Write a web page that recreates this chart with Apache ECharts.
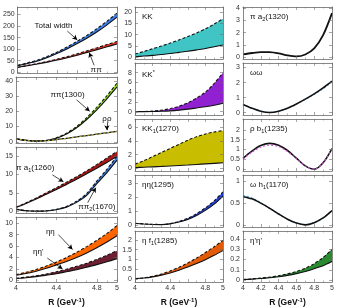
<!DOCTYPE html>
<html><head><meta charset="utf-8">
<script src="https://cdn.jsdelivr.net/npm/echarts@6/dist/echarts.min.js"></script>
<style>html,body{margin:0;padding:0;background:#fff}#c{width:345px;height:308px}</style>
</head><body><div id="c"></div><script>
// ---------- data ----------
const R = [4.0,4.1,4.2,4.3,4.4,4.5,4.6,4.7,4.8,4.9,5.0];
const xTicksCoarse = [4,4.4,4.8,5];
const xTicksFine = [4,4.2,4.4,4.6,4.8,5];
// column 1
const totalWidthHi = [30,41,53,69,88,110,134,160,189,221,255];
const totalWidthLo = [28,38,49,64,82,102,124,148,175,205,238];
const pipiHi = [22,30,38,47,57,68,80,93,106,120,133];
const pipiLo = [21,28,36,44,53,63,74,86,98,110,122];
const pipi1300Hi = [2.0,1.0,0.5,0.9,2.6,5.6,10.0,15.8,22.6,30.2,38.5];
const pipi1300Lo = [1.9,0.9,0.4,0.8,2.3,5.1,9.2,14.6,21.0,28.2,36.0];
const rhorho = [1.9,0.9,0.4,0.7,1.4,2.3,3.2,4.1,5.0,5.9,6.8];
const pia1Hi = [1.1,2.3,3.6,5.0,6.4,7.9,9.4,11.0,12.7,14.5,16.3];
const pia1Lo = [1.0,2.1,3.3,4.6,5.9,7.3,8.7,10.2,11.7,13.3,14.9];
const pipi2Hi = [0.6,0.15,0.0,0.1,0.5,1.3,2.7,4.8,8.2,11.4,15.0];
const pipi2Lo = [0.5,0.1,0.0,0.05,0.4,1.1,2.4,4.3,7.5,10.5,13.9];
const etaetaHi = [1.0,1.4,1.9,2.5,3.2,4.0,4.9,5.9,7.0,8.2,9.6];
const etaetaLo = [0.9,1.2,1.6,2.1,2.7,3.3,4.0,4.8,5.7,6.7,7.8];
const etaetapHi = [0.35,0.55,0.8,1.1,1.5,1.95,2.45,3.0,3.65,4.4,5.2];
const etaetapLo = [0.3,0.45,0.65,0.9,1.15,1.5,1.85,2.3,2.75,3.25,3.8];
// column 2
const kkHi = [1.5,2.6,3.8,5.0,6.3,7.7,9.2,10.8,12.6,14.7,17.0];
const kkLo = [0.3,0.6,0.9,1.3,1.7,2.2,2.7,3.3,3.9,4.7,5.5];
const kkStarHi = [0.0,0.02,0.1,0.3,0.6,1.1,1.8,2.8,4.0,5.8,8.0];
const kkStarLo = [0.0,0.0,0.02,0.07,0.15,0.3,0.5,0.75,1.0,1.3,1.7];
const kk1Hi = [0.6,1.1,1.7,2.3,2.9,3.5,4.1,4.6,5.0,5.3,5.5];
const kk1Lo = [0.10,0.15,0.21,0.27,0.34,0.41,0.48,0.56,0.64,0.72,0.80];
const etaeta1295Hi = [0.12,0.08,0.05,0.04,0.1,0.25,0.48,0.8,1.22,1.72,2.35];
const etaeta1295Lo = [0.11,0.07,0.04,0.03,0.08,0.21,0.4,0.68,1.04,1.48,2.05];
const etaf1Hi = [0.02,0.06,0.14,0.26,0.41,0.6,0.82,1.07,1.35,1.65,1.97];
const etaf1Lo = [0.02,0.05,0.11,0.2,0.31,0.45,0.61,0.79,0.99,1.21,1.45];
// column 3
const pia2 = [0.22,0.34,0.42,0.41,0.31,0.15,0.06,0.22,0.72,1.8,3.6];
const omom = [0.55,0.3,0.1,0.02,0.1,0.3,0.58,0.9,1.25,1.65,2.1];
const omomB = [0.55,0.3,0.1,0.02,0.1,0.3,0.58,0.89,1.22,1.6,2.04];
const rhob1 = [0.55,0.92,1.2,1.31,1.22,0.95,0.56,0.17,0.0,0.33,1.05];
const rhob1B = [0.52,0.86,1.12,1.22,1.15,0.9,0.54,0.16,0.0,0.33,1.05];
const omh1 = [0.65,0.6,0.5,0.38,0.25,0.13,0.04,0.0,0.05,0.16,0.33];
const omh1B = [0.68,0.62,0.51,0.38,0.25,0.13,0.04,0.0,0.05,0.16,0.33];
const epepHi = [0.005,0.01,0.018,0.028,0.042,0.06,0.083,0.115,0.16,0.22,0.30];
const epepLo = [0.004,0.008,0.014,0.022,0.032,0.045,0.062,0.083,0.11,0.14,0.18];

// ---------- layout / style ----------
const FONT = '"Liberation Sans", Arial, Helvetica, sans-serif';
const FRAME = '#6a6a6a';
const COLS = [{left:16,width:101},{left:135,width:88},{left:243,width:89}];
const TOP = 7, BOT = 283;
function rowBox(i,n){const gap=4;const h=(BOT-TOP-gap*(n-1))/n;return {top:TOP+i*(h+gap),height:h};}
const RICH = {
  n:{fontSize:8,fontFamily:FONT,color:'#111',lineHeight:11,verticalAlign:'middle'},
  s:{fontSize:5.5,fontFamily:FONT,color:'#111',lineHeight:6,verticalAlign:'bottom'},
  p:{fontSize:5.5,fontFamily:FONT,color:'#111',lineHeight:6,verticalAlign:'top'}
};
const NAME_RICH = {
  n:{fontSize:8.5,fontWeight:'bold',fontFamily:FONT,color:'#111',lineHeight:11,verticalAlign:'middle'},
  p:{fontSize:6,fontWeight:'bold',fontFamily:FONT,color:'#111',lineHeight:6,verticalAlign:'top'}
};

const panels = [
 {c:0,r:0,n:4,min:-3,max:282,ticks:[0,50,100,150,200,250],
  bands:[{hi:totalWidthHi,lo:totalWidthLo,color:'#3a80e8'},{hi:pipiHi,lo:pipiLo,color:'#e53528'}],
  notes:[{t:'{n|Total width}',at:[4.36,200],arrow:[[4.5,178],[4.6,140]]},{t:'{n|ππ}',at:[4.79,10],arrow:[[4.77,30],[4.72,85]]}]},
 {c:0,r:1,n:4,min:-0.8,max:42.5,ticks:[0,10,20,30,40],
  bands:[{hi:pipi1300Hi,lo:pipi1300Lo,color:'#8fe020'}],
  lines:[{d:rhorho,color:'#111',w:1.3},{d:rhorho,color:'#e8e040',w:0.8,dash:[2,2]}],
  notes:[{t:'{n|ππ(1300)}',at:[4.51,31],arrow:[[4.6,27.5],[4.73,20]]},{t:'{n|ρρ}',at:[4.9,15],arrow:[[4.9,12.5],[4.9,7.6]]}]},
 {c:0,r:2,n:4,min:-0.5,max:17.5,ticks:[0,5,10,15],
  bands:[{hi:pia1Hi,lo:pia1Lo,color:'#a81818'},{hi:pipi2Hi,lo:pipi2Lo,color:'#3f7fe8'}],
  notes:[{t:'{n|π a}{s|1}{n|(1260)}',at:[4.19,11.8],arrow:[[4.36,9.9],[4.47,8.0]]},{t:'{n|ππ}{s|2}{n|(1670)}',at:[4.8,1.1],arrow:[[4.71,2.3],[4.79,6.4]]}]},
 {c:0,r:3,n:4,min:-0.3,max:11.1,ticks:[0,2,4,6,8,10],
  bands:[{hi:etaetaHi,lo:etaetaLo,color:'#ff6600'},{hi:etaetapHi,lo:etaetapLo,color:'#6e1f32'}],
  notes:[{t:'{n|ηη}',at:[4.34,8.5],arrow:[[4.42,8.0],[4.56,5.4]]},{t:"{n|ηη'}",at:[4.22,5.0],arrow:[[4.31,3.9],[4.46,2.0]]}]},
 {c:1,r:0,n:5,min:-0.7,max:22.2,ticks:[0,5,10,15,20],label:'{n|KK}',
  bands:[{hi:kkHi,lo:kkLo,color:'#40c4c4'}]},
 {c:1,r:1,n:5,min:-0.7,max:10,ticks:[0,2,4,6,8],label:'{n|KK}{p|*}',
  bands:[{hi:kkStarHi,lo:kkStarLo,color:'#9020d0'}]},
 {c:1,r:2,n:5,min:-0.4,max:7.2,ticks:[0,2,4,6],label:'{n|KK}{s|1}{n|(1270)}',
  bands:[{hi:kk1Hi,lo:kk1Lo,color:'#c9bd00'}]},
 {c:1,r:3,n:5,min:-0.14,max:3.55,ticks:[0,1,2,3],label:'{n|ηη(1295)}',
  bands:[{hi:etaeta1295Hi,lo:etaeta1295Lo,color:'#2040e0'}]},
 {c:1,r:4,n:5,min:-0.15,max:2.45,ticks:[0,0.5,1,1.5,2],label:'{n|η f}{s|1}{n|(1285)}',
  bands:[{hi:etaf1Hi,lo:etaf1Lo,color:'#e35a08'}]},
 {c:2,r:0,n:5,min:-0.15,max:4.1,ticks:[0,1,2,3,4],label:'{n|π a}{s|2}{n|(1320)}',
  lines:[{d:pia2,color:'#111',w:1.8}]},
 {c:2,r:1,n:5,min:-0.15,max:3.3,ticks:[0,1,2,3],label:'{n|ωω}',
  lines:[{d:omomB,color:'#50b0e0',w:1.2,dash:[2,2]},{d:omom,color:'#111',w:1.6}]},
 {c:2,r:2,n:5,min:-0.09,max:2.55,ticks:[0,0.5,1,1.5,2],label:'{n|ρ b}{s|1}{n|(1235)}',
  lines:[{d:rhob1,color:'#111',w:1.6},{d:rhob1B,color:'#d050d0',w:1.1,dash:[2,2]}]},
 {c:2,r:3,n:5,min:-0.05,max:1.15,ticks:[0,0.5,1],label:'{n|ω h}{s|1}{n|(1170)}',
  lines:[{d:omh1B,color:'#40a8e0',w:1.2,dash:[2,2]},{d:omh1,color:'#111',w:1.6}]},
 {c:2,r:4,n:5,min:-0.02,max:0.48,ticks:[0,0.1,0.2,0.3,0.4],label:"{n|η'η'}",
  bands:[{hi:epepHi,lo:epepLo,color:'#2a8a30'}]}
];

const grids=[], xAxes=[], yAxes=[], series=[], graphics=[];
function pairs(arr){return R.map((x,j)=>[x,arr[j]]);}
function axisX(i,pos,labels,xl){
  return {gridIndex:i,type:'value',min:4,max:5,interval:0.2,position:pos,z:10,
    axisLine:{show:true,onZero:false,lineStyle:{color:FRAME,width:0.8}},
    axisTick:{show:true,inside:true,length:3,lineStyle:{color:FRAME,width:0.6}},
    minorTick:{show:true,splitNumber:2,length:1.5,lineStyle:{color:FRAME,width:0.5}},
    splitLine:{show:false},minorSplitLine:{show:false},
    axisLabel:{show:labels,fontSize:7,color:'#333',fontFamily:FONT,margin:3,customValues:xl,
      formatter:v=>String(+(+v).toFixed(1))},
    name:labels?'{n|R (GeV}{p|-1}{n|)}':'',nameLocation:'middle',nameGap:15,
    nameTextStyle:{rich:NAME_RICH}};
}
function axisY(i,pos,labels,p){
  return {gridIndex:i,type:'value',min:p.min,max:p.max,position:pos,z:10,
    axisLine:{show:true,onZero:false,lineStyle:{color:FRAME,width:0.8}},
    axisTick:{show:true,inside:true,length:3,customValues:p.ticks,lineStyle:{color:FRAME,width:0.6}},
    splitLine:{show:false},
    axisLabel:{show:labels,fontSize:7,color:'#333',fontFamily:FONT,margin:3,customValues:p.ticks,
      formatter:v=>String(+(+v).toFixed(2))}};
}
function lineSeries(xi,yi,d,color,w,type){
  return {type:'line',xAxisIndex:xi,yAxisIndex:yi,data:pairs(d),symbol:'none',smooth:0.3,silent:true,
    lineStyle:{color:color,width:w,type:type||'solid'},z:3};
}
function areaSeries(xi,yi,d,color){
  return {type:'line',xAxisIndex:xi,yAxisIndex:yi,data:pairs(d),symbol:'none',smooth:0.3,silent:true,
    lineStyle:{width:0,opacity:0},areaStyle:{color:color,opacity:1,origin:'start'},z:2};
}

panels.forEach((p,i)=>{
  const col=COLS[p.c], rb=rowBox(p.r,p.n);
  grids.push({left:col.left,width:col.width,top:rb.top,height:rb.height,containLabel:false});
  const bottom = p.r===p.n-1;
  const xl = p.c===2 ? xTicksFine : xTicksCoarse;
  xAxes.push(axisX(i,'bottom',bottom,xl), axisX(i,'top',false,xl));
  yAxes.push(axisY(i,'left',true,p), axisY(i,'right',false,p));
  const xi=2*i, yi=2*i;
  // band fills: colour under the upper edge, then white under the lower edge
  (p.bands||[]).forEach(b=>{
    series.push(areaSeries(xi,yi,b.hi,b.color));
    series.push(areaSeries(xi,yi,b.lo,'#ffffff'));
  });
  (p.bands||[]).forEach(b=>{
    series.push(lineSeries(xi,yi,b.lo,'#111',1.1,'solid'));
    series.push(lineSeries(xi,yi,b.hi,'#111',1.1,[3,2]));
  });
  (p.lines||[]).forEach(l=>{
    series.push(lineSeries(xi,yi,l.d,l.color,l.w,l.dash||'solid'));
  });
  if(p.notes){
    const ref = p.bands ? p.bands[0].lo : p.lines[0].d;
    series.push({type:'line',xAxisIndex:xi,yAxisIndex:yi,data:pairs(ref),symbol:'none',silent:true,
      lineStyle:{opacity:0,width:0},z:5,
      markLine:{silent:true,symbol:['none','arrow'],symbolSize:[4,5],animation:false,
        label:{show:false},lineStyle:{color:'#000',width:0.7,type:'solid'},
        data:p.notes.map(n=>[{coord:n.arrow[0]},{coord:n.arrow[1]}])},
      markPoint:{silent:true,symbol:'circle',symbolSize:1,animation:false,itemStyle:{color:'rgba(0,0,0,0)'},
        label:{show:true,position:'inside',formatter:q=>q.name,rich:RICH},
        data:p.notes.map(n=>({coord:n.at,name:n.t}))}
    });
  }
  if(p.label){
    graphics.push({type:'text',left:col.left+7,top:rb.top+6,silent:true,z:20,
      style:{text:p.label,rich:RICH,fill:'#111'}});
  }
});

const chart = echarts.init(document.getElementById('c'),null,{renderer:'canvas'});
chart.setOption({animation:false,backgroundColor:'#fff',grid:grids,xAxis:xAxes,yAxis:yAxes,series:series,graphic:graphics});
</script></body></html>
